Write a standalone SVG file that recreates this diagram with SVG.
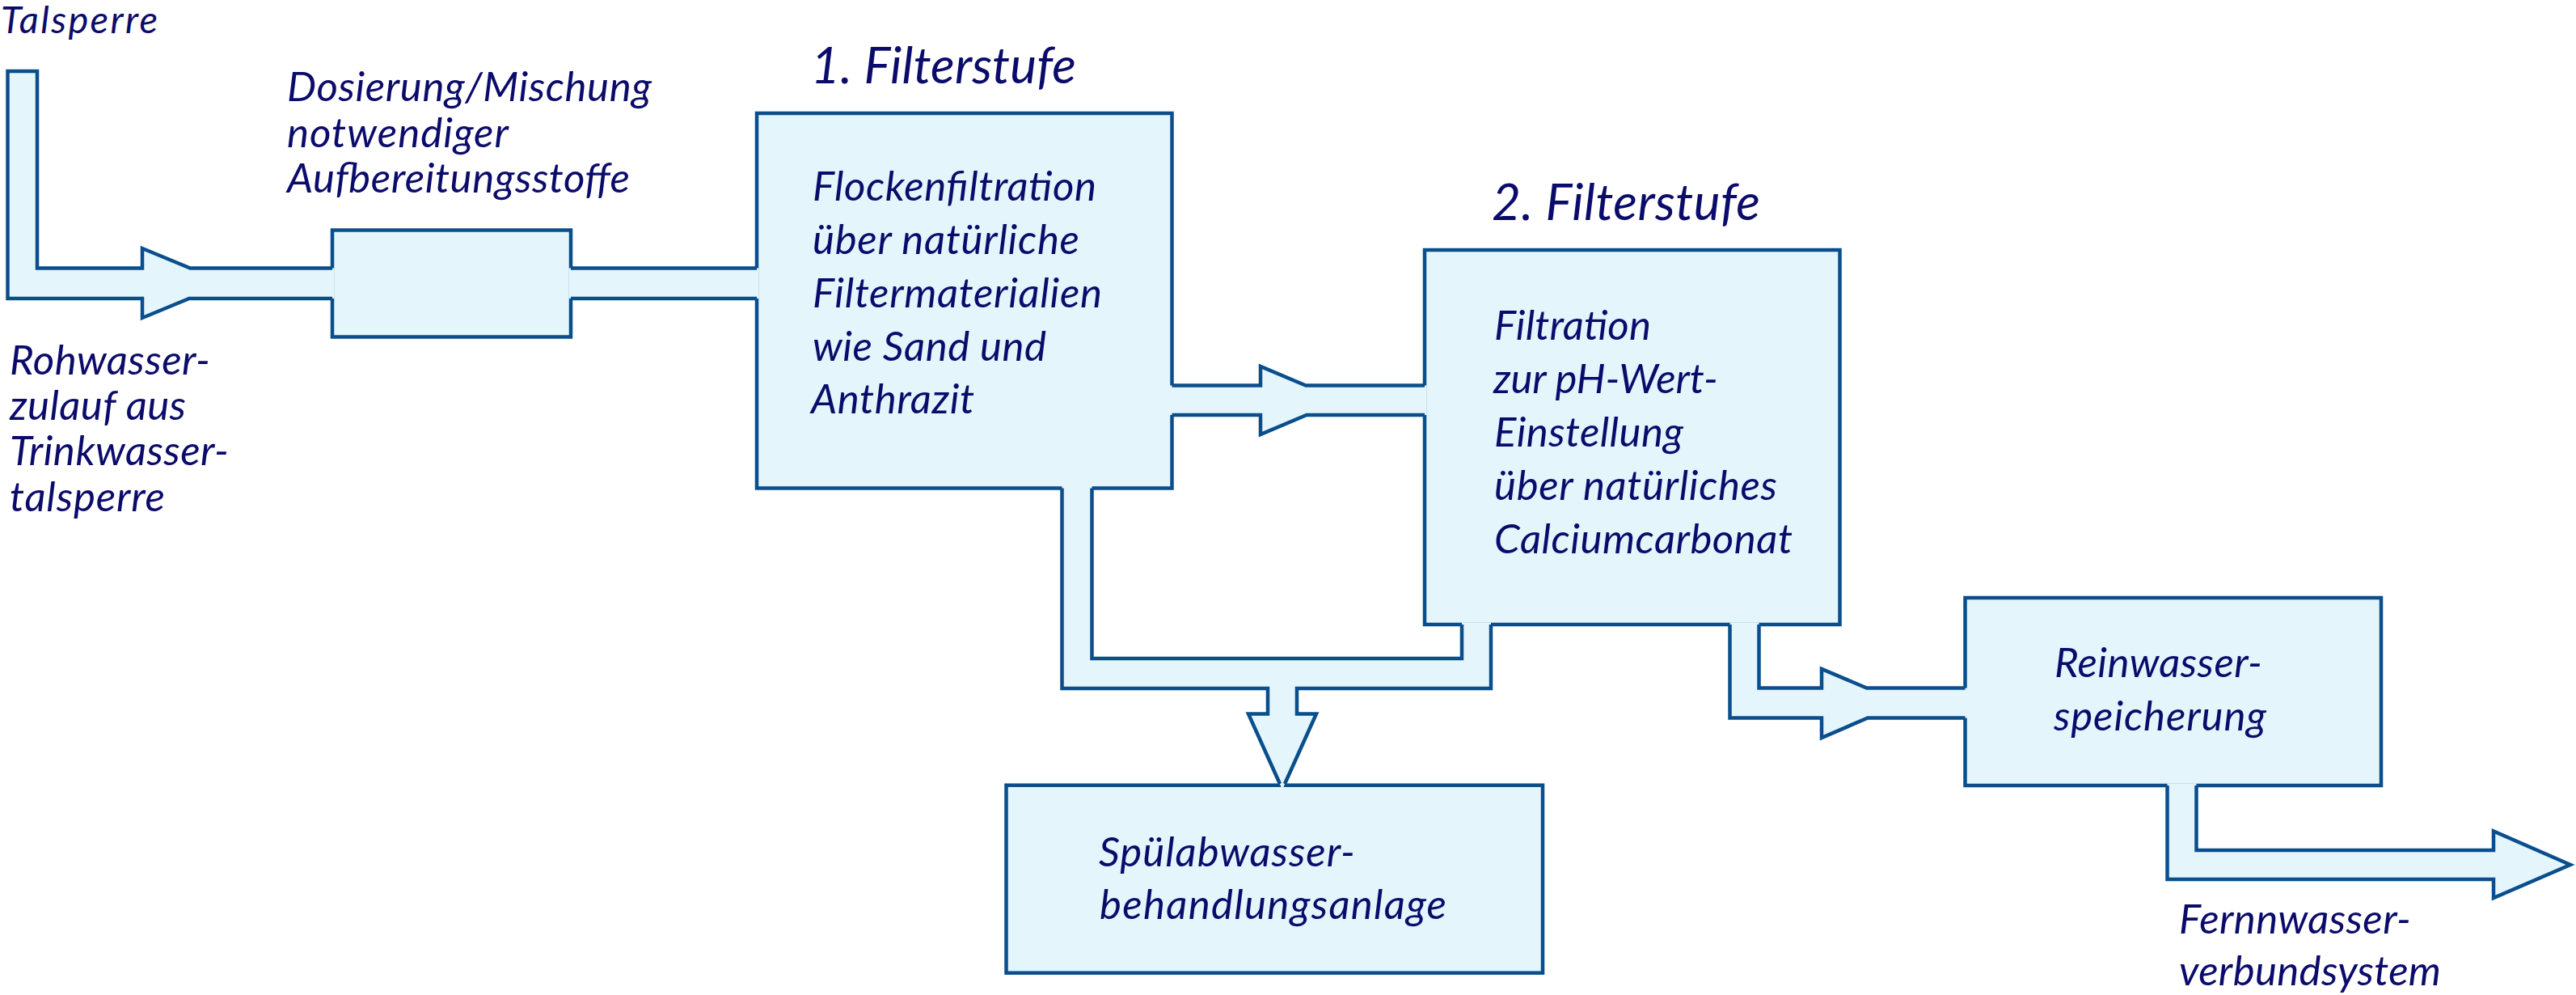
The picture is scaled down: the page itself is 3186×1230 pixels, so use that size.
<svg xmlns="http://www.w3.org/2000/svg" width="3186" height="1230" viewBox="0 0 3186 1230">
<style>
.box{fill:#e4f5fc;stroke:#0a4e8c;stroke-width:4.5}
.pf{fill:#e4f5fc;stroke:none}
.pl{fill:none;stroke:#0a4e8c;stroke-width:4.5;stroke-linejoin:miter;stroke-miterlimit:10}
text{font-family:Lato,"Liberation Sans",sans-serif;font-style:italic;font-size:51px;fill:#0b0b6b}
.t{font-size:62px}
.s{font-size:47px}
</style>
<rect width="3186" height="1230" fill="#ffffff"/>
<g id="label-talsperre"><text class="s" x="1" y="41" textLength="194">Talsperre</text></g>
<g id="label-rohwasser">
<text x="12" y="463" textLength="248">Rohwasser-</text>
<text x="12" y="519" textLength="218">zulauf aus</text>
<text x="12" y="575" textLength="271">Trinkwasser-</text>
<text x="12" y="632" textLength="192">talsperre</text>
</g>
<g id="dosierung">
<rect class="box" x="411" y="284.5" width="295" height="132"/>
<text x="355" y="125" textLength="451">Dosierung/Mischung</text>
<text x="355" y="182" textLength="274">notwendiger</text>
<text x="355" y="238" textLength="424">Aufbereitungsstoffe</text>
</g>
<g id="filterstufe1">
<rect class="box" x="936" y="140" width="513.5" height="463.5"/>
<text class="t" x="1003" y="103" textLength="328">1. Filterstufe</text>
<text x="1005" y="248" textLength="351">Flockenfiltration</text>
<text x="1005" y="314" textLength="330">über natürliche</text>
<text x="1005" y="380" textLength="358">Filtermaterialien</text>
<text x="1005" y="446" textLength="289">wie Sand und</text>
<text x="1003" y="511" textLength="202">Anthrazit</text>
</g>
<g id="filterstufe2">
<rect class="box" x="1762" y="309" width="513.5" height="463"/>
<text class="t" x="1845" y="272" textLength="332">2. Filterstufe</text>
<text x="1848" y="420" textLength="194">Filtration</text>
<text x="1847" y="486" textLength="278">zur pH-Wert-</text>
<text x="1848" y="552" textLength="234">Einstellung</text>
<text x="1848" y="618" textLength="350">über natürliches</text>
<text x="1848" y="684" textLength="369">Calciumcarbonat</text>
</g>
<g id="spuelabwasser">
<rect class="box" x="1244.5" y="970.7" width="663.5" height="232"/>
<text x="1359" y="1071" textLength="317">Spülabwasser-</text>
<text x="1360" y="1136" textLength="429">behandlungsanlage</text>
</g>
<g id="reinwasser">
<rect class="box" x="2430.5" y="739" width="514.5" height="232"/>
<text x="2541" y="837" textLength="257">Reinwasser-</text>
<text x="2540" y="903" textLength="263">speicherung</text>
</g>
<g id="label-fernwasser">
<text x="2695" y="1154" textLength="287">Fernnwasser-</text>
<text x="2695" y="1218" textLength="324">verbundsystem</text>
</g>
<g id="connectors">
<g id="pipe-zulauf">
<polygon class="pf" points="9.5,88 46,88 46,331.5 176,331.5 176,307 235.3,331.5 413.5,331.5 413.5,369 234,369 176,393 176,369 9.5,369"/>
<polyline class="pl" points="411,331.5 235.3,331.5 176,307 176,331.5 46,331.5 46,88 9.5,88 9.5,369 176,369 176,393 234,369 411,369"/>
<rect class="pf" x="703.5" y="331.5" width="235" height="37.5"/>
<line class="pl" x1="706" y1="331.5" x2="936" y2="331.5"/>
<line class="pl" x1="706" y1="369" x2="936" y2="369"/>
</g>
<g id="pipe-f1-f2">
<polygon class="pf" points="1447,476.5 1559,476.5 1559,453 1615,476.5 1764.5,476.5 1764.5,513 1616,513 1559,537 1559,513 1447,513"/>
<polyline class="pl" points="1449.5,476.5 1559,476.5 1559,453 1615,476.5 1762,476.5"/>
<polyline class="pl" points="1449.5,513 1559,513 1559,537 1616,513 1762,513"/>
</g>
<g id="pipe-spuelung">
<polygon class="pf" points="1313.5,601 1350.5,601 1350.5,814 1808,814 1808,769.5 1844,769.5 1844,851 1604,851 1604,882.5 1628,882.5 1586,976 1544,882.5 1568,882.5 1568,851 1313.5,851"/>
<polyline class="pl" points="1313.5,603.5 1313.5,851 1568,851 1568,882.5 1544,882.5 1583,969"/>
<polyline class="pl" points="1589,969 1628,882.5 1604,882.5 1604,851 1844,851 1844,772"/>
<polyline class="pl" points="1350.5,603.5 1350.5,814 1808,814 1808,772"/>
</g>
<g id="pipe-f2-rein">
<polygon class="pf" points="2139.5,769.5 2175.5,769.5 2175.5,850.5 2253,850.5 2253,827 2308.7,850.5 2433,850.5 2433,887.5 2310,887.5 2253,912 2253,887.5 2139.5,887.5"/>
<polyline class="pl" points="2175.5,772 2175.5,850.5 2253,850.5 2253,827 2308.7,850.5 2430.5,850.5"/>
<polyline class="pl" points="2139.5,772 2139.5,887.5 2253,887.5 2253,912 2310,887.5 2430.5,887.5"/>
</g>
<g id="pipe-fernwasser">
<polygon class="pf" points="2680.5,968.5 2716.5,968.5 2716.5,1051 3084,1051 3084,1027.5 3179,1069 3084,1110 3084,1087 2680.5,1087"/>
<polyline class="pl" points="2716.5,971 2716.5,1051 3084,1051 3084,1027.5 3179,1069 3084,1110 3084,1087 2680.5,1087 2680.5,971"/>
</g>
</g>
</svg>
